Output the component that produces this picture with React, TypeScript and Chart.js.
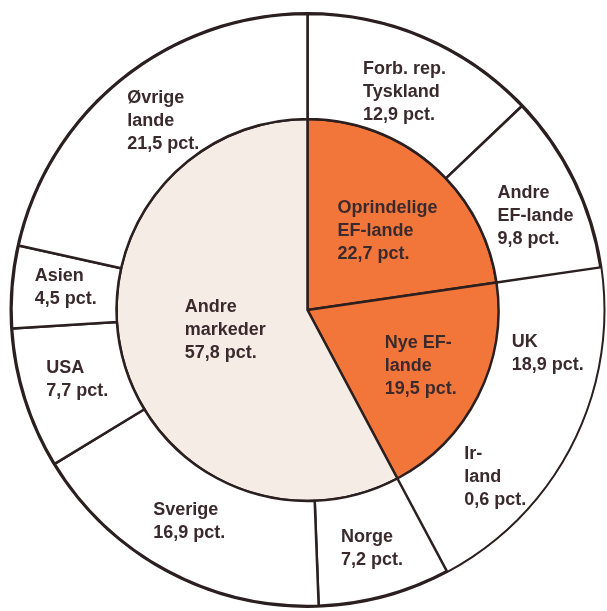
import React, { useEffect, useRef } from "react";
import { Chart, registerables } from "chart.js";

Chart.register(...registerables);

// Outer ring: individual markets
const OUTER_LABELS = [
  "Forb. rep.\nTyskland",
  "Andre\nEF-lande",
  "UK",
  "Ir-\nland",
  "Norge",
  "Sverige",
  "USA",
  "Asien",
  "Øvrige\nlande",
];
const OUTER_VALUES = [12.9, 9.8, 18.9, 0.6, 7.2, 16.9, 7.7, 4.5, 21.5];
// UK and Ireland share one undivided field in the original drawing
const OUTER_MERGED = [false, false, true, true, false, false, false, false, false];

// Inner pie: market groups
const INNER_LABELS = ["Oprindelige\nEF-lande", "Nye EF-\nlande", "Andre\nmarkeder"];
const INNER_VALUES = [22.7, 19.5, 57.8];

// Thin outline ring around the whole figure (100 %)
const OUTLINE_VALUES = [100];

const ORANGE = "#f2763a";
const CREAM = "#f6ece6";
const WHITE = "#ffffff";
const LINE = "#2b1f1f";
const TEXT = "#3a2a2e";

// label nudges (px) relative to arc centre points
const OUTER_NUDGE = [
  [1, 6],
  [9, 12],
  [21, -62],
  [69, -46],
  [1, 3],
  [-3, -3],
  [2, -4],
  [1, -3],
  [8, 1],
];
const INNER_NUDGE = [
  [5, 8],
  [11, 4],
  [29, -8],
];

const fmt = (v: number) => v.toFixed(1).replace(".", ",") + " pct.";

const labelPlugin = {
  id: "ringLabels",
  afterDatasetsDraw(chart: any) {
    const ctx = chart.ctx;
    ctx.save();
    ctx.font = "bold 18px 'Liberation Sans', Arial, sans-serif";
    ctx.fillStyle = TEXT;
    ctx.textBaseline = "middle";
    ctx.textAlign = "left";
    const lineH = 23;
    [1, 2].forEach((di) => {
      const ds = chart.data.datasets[di];
      const meta = chart.getDatasetMeta(di);
      const labels = di === 1 ? OUTER_LABELS : INNER_LABELS;
      const nudges = di === 1 ? OUTER_NUDGE : INNER_NUDGE;
      meta.data.forEach((arc: any, i: number) => {
        const p = arc.getProps(["x", "y", "startAngle", "endAngle", "innerRadius", "outerRadius"], true);
        const mid = (p.startAngle + p.endAngle) / 2;
        const r = di === 1 ? (p.innerRadius + p.outerRadius) / 2 : p.outerRadius * 0.6;
        const ax = p.x + Math.cos(mid) * r + nudges[i][0];
        const ay = p.y + Math.sin(mid) * r + nudges[i][1];
        const lines = labels[i].split("\n").concat([fmt(ds.data[i])]);
        const w = Math.max(...lines.map((l: string) => ctx.measureText(l).width));
        const x0 = ax - w / 2;
        lines.forEach((l: string, li: number) => {
          ctx.fillText(l, x0, ay + (li - (lines.length - 1) / 2) * lineH);
        });
      });
    });
    ctx.restore();
  },
};

export default function App() {
  const ref = useRef<HTMLCanvasElement | null>(null);
  useEffect(() => {
    if (!ref.current) return;
    const chart = new Chart(ref.current, {
      type: "doughnut",
      data: {
        labels: OUTER_LABELS,
        datasets: [
          {
            data: OUTLINE_VALUES,
            backgroundColor: [LINE],
            borderWidth: 0,
            weight: 2,
          } as any,
          {
            data: OUTER_VALUES,
            backgroundColor: OUTER_MERGED.map((m) => (m ? "rgba(0,0,0,0)" : WHITE)),
            borderColor: LINE,
            borderWidth: OUTER_MERGED.map((m) => (m ? 0 : 2.5)),
            weight: 105,
          } as any,
          {
            data: INNER_VALUES,
            backgroundColor: [ORANGE, ORANGE, CREAM],
            borderColor: LINE,
            borderWidth: 2.5,
            weight: 191,
          } as any,
        ],
      },
      options: {
        responsive: false,
        animation: false,
        cutout: 0,
        radius: 298,
        layout: { padding: { left: 8, right: 0, top: 12, bottom: 3 } },
        plugins: {
          legend: { display: false },
          tooltip: { enabled: false },
        },
      } as any,
      plugins: [labelPlugin],
    });
    return () => chart.destroy();
  }, []);
  return (
    <div style={{ position: "fixed", left: 0, top: 0, width: 607, height: 611, background: "#fff", overflow: "hidden" }}>
      <canvas ref={ref} width={607} height={611} style={{ display: "block" }} />
    </div>
  );
}
